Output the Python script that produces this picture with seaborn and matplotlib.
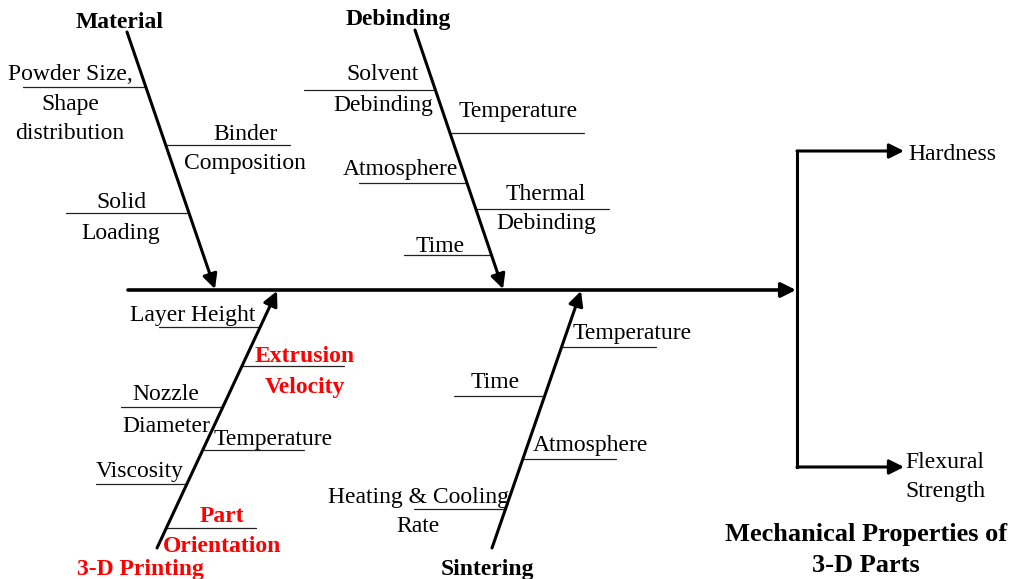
import matplotlib
matplotlib.use("Agg")
import matplotlib.pyplot as plt
import seaborn as sns

sns.set_theme(style="white")
plt.rcParams["font.family"] = ["Liberation Serif", "DejaVu Serif"]
plt.rcParams["text.color"] = "black"

# ---- content -------------------------------------------------------------
CATEGORIES = ["Material", "Debinding", "3-D Printing", "Sintering"]
CATEGORY_COLORS = ["black", "black", "red", "black"]

# each cause: (text above the line, text below the line)
MATERIAL_CAUSES = [("Powder Size,", "Shape\ndistribution"), ("Binder", "Composition"), ("Solid", "Loading")]
DEBINDING_CAUSES = [("Solvent", "Debinding"), ("Temperature", ""), ("Atmosphere", ""),
                    ("Thermal", "Debinding"), ("Time", "")]
PRINTING_CAUSES = [("Layer Height", ""), ("Extrusion", "Velocity"), ("Nozzle", "Diameter"),
                   ("Temperature", ""), ("Viscosity", ""), ("Part", "Orientation")]
SINTERING_CAUSES = [("Temperature", ""), ("Time", ""), ("Atmosphere", ""), ("Heating & Cooling", "Rate")]
HIGHLIGHTED = {"Extrusion", "Part"}

OUTCOMES = ["Hardness", "Flexural\nStrength"]
EFFECT = "Mechanical Properties of\n3-D Parts"

# ---- layout (pixel space, y down) ----------------------------------------
SPINE_Y = 290
SPINE_X = (128, 796)
BONES = {  # start -> arrow tip on spine
    "Material": ((127, 32), (215, 289)),
    "Debinding": ((415, 30), (503, 289)),
    "3-D Printing": ((157, 548), (277, 291)),
    "Sintering": ((492, 548), (581, 291)),
}
LABEL_POS = {"Material": (120, 19), "Debinding": (398, 16),
             "3-D Printing": (140, 566), "Sintering": (487, 566)}
# per cause: line y, side (-1 left / +1 right), line length, text centre x,
#            offset of upper text, offset of lower text
CAUSE_LAYOUT = {
    "Material": [(87, -1, 123, 70, -15, 15), (145, 1, 124, 245, -14, 16), (213, -1, 123, 121, -14, 17)],
    "Debinding": [(90, -1, 131, 383, -18, 13), (133, 1, 134, 518, -24, 0), (183, -1, 108, 400, -16, 0),
                  (209, 1, 133, 546, -18, 12), (255, -1, 87, 440, -12, 0)],
    "3-D Printing": [(327, -1, 101, 193, -14, 0), (366, 1, 102, 305, -13, 18), (407, -1, 102, 166, -15, 16),
                     (450, 1, 101, 273, -14, 0), (484, -1, 91, 140, -16, 0), (528, 1, 90, 222, -15, 16)],
    "Sintering": [(347, 1, 94, 632, -16, 0), (396, -1, 91, 495, -16, 0), (459, 1, 93, 590, -16, 0),
                  (509, -1, 92, 418, -15, 15)],
}
ALL_CAUSES = {"Material": MATERIAL_CAUSES, "Debinding": DEBINDING_CAUSES,
              "3-D Printing": PRINTING_CAUSES, "Sintering": SINTERING_CAUSES}

FS = 17
TY = 3  # baseline correction for va="center"
ARROW = dict(arrowstyle="-|>", color="black", lw=2.2, mutation_scale=22, shrinkA=0, shrinkB=0)


def bone_x_at(cat, y):
    (x0, y0), (x1, y1) = BONES[cat]
    return x0 + (x1 - x0) * (y - y0) / (y1 - y0)


fig = plt.figure(figsize=(10.14, 5.79), dpi=100)
ax = fig.add_axes([0, 0, 1, 1])
ax.set_xlim(0, 1014)
ax.set_ylim(579, 0)
ax.axis("off")

# spine
ax.annotate("", xy=(SPINE_X[1], SPINE_Y), xytext=(SPINE_X[0], SPINE_Y),
            arrowprops={**ARROW, "lw": 2.6})

# outcome bracket
bx, top_y, bot_y, tip_x = 797, 151, 467, 904
ax.plot([bx, bx], [top_y, bot_y], color="black", lw=2.2, solid_capstyle="projecting")
for yy in (top_y, bot_y):
    ax.annotate("", xy=(tip_x, yy), xytext=(bx, yy), arrowprops=ARROW)
ax.text(908, top_y + TY, OUTCOMES[0], fontsize=FS, ha="left", va="center")
ax.text(905, 474 + TY, OUTCOMES[1], fontsize=FS, ha="left", va="center", linespacing=1.55)
ax.text(866, 547 + TY, EFFECT, fontsize=19, fontweight="bold", ha="center", va="center",
        linespacing=1.5)

# bones and causes
for cat, color in zip(CATEGORIES, CATEGORY_COLORS):
    start, tip = BONES[cat]
    ax.annotate("", xy=tip, xytext=start, arrowprops=ARROW)
    lx, ly = LABEL_POS[cat]
    ax.text(lx, ly + TY, cat, fontsize=FS, fontweight="bold", color=color, ha="center", va="center")

    for (above, below), (y, side, length, tx, dya, dyb) in zip(ALL_CAUSES[cat], CAUSE_LAYOUT[cat]):
        xb = bone_x_at(cat, y)
        ax.plot([xb, xb + side * length], [y, y], color="#222222", lw=0.9)
        hl = above in HIGHLIGHTED
        style = dict(fontsize=FS, ha="center", va="center",
                     color="red" if hl else "black", fontweight="bold" if hl else "normal")
        ax.text(tx, y + dya + TY, above, **style)
        if below:
            nlines = below.count("\n") + 1
            ax.text(tx, y + dyb + TY + (nlines - 1) * 14, below, linespacing=1.55, **style)

fig.savefig("out.png", dpi=100)
